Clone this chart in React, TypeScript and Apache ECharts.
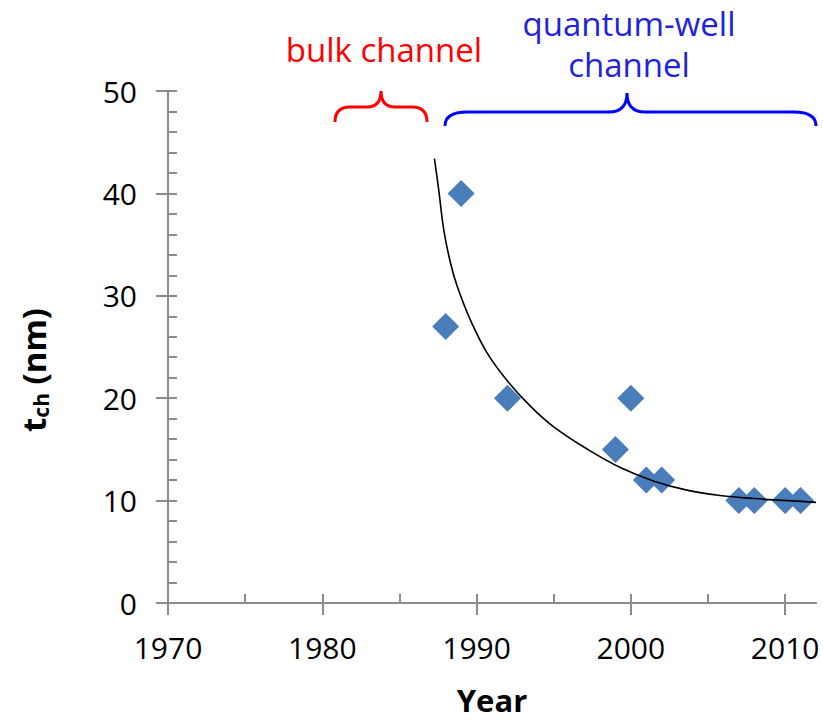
import React, { useEffect, useRef } from "react";
import * as echarts from "echarts";

// Measured data points
const years = [1988, 1989, 1992, 1999, 2000, 2001, 2002, 2007, 2008, 2010, 2011];
const thickness = [27, 40, 20, 15, 20, 12, 12, 10, 10, 10, 10];

// Trend curve
const trendYears = [1987.27, 1987.55, 1987.88, 1988.31, 1988.75, 1989.61, 1990.69, 1991.99, 1993.5, 1995.0, 1997.2, 1999.35, 2001.5, 2003.7, 2005.8, 2008.0, 2010.2, 2012.0];
const trendValues = [43.4, 40.3, 36.4, 33.2, 30.9, 27.6, 24.4, 21.7, 19.2, 17.2, 15.0, 13.2, 11.9, 11.0, 10.5, 10.2, 10.0, 9.83];

// Axis ticks
const xMajorTicks = [1970, 1980, 1990, 2000, 2010];
const xAllTicks = [1970, 1975, 1980, 1985, 1990, 1995, 2000, 2005, 2010];

const D_RED = "M0,0 Q0,-15 15,-15 L32,-15 Q46,-15 46,-31 Q46,-15 60,-15 L77,-15 Q92,-15 92,0";
const D_BLUE = "M0,0 Q0,-14 22,-14 L164,-14 Q182,-14 182,-33 Q182,-14 200,-14 L349,-14 Q371,-14 371,0";

echarts.graphic.registerShape("braceRed", echarts.graphic.extendPath(D_RED, {}));
echarts.graphic.registerShape("braceBlue", echarts.graphic.extendPath(D_BLUE, {}));

const FONT = "Open Sans";
const AXIS_COLOR = "#8c8c8c";

export default function App() {
  const ref = useRef<HTMLDivElement>(null);
  useEffect(() => {
    if (!ref.current) return;
    const chart = echarts.init(ref.current, undefined, { renderer: "svg" });
    const scatterData = years.map((y, i) => [y, thickness[i]]);
    const trendData = trendYears.map((y, i) => [y, trendValues[i]]);
    const baseX = {
      type: "value" as const,
      min: 1970,
      max: 2012,
      position: "bottom" as const,
      splitLine: { show: false },
      axisLine: { show: true, lineStyle: { color: AXIS_COLOR, width: 2 } },
    };
    const baseY = {
      type: "value" as const,
      min: 0,
      max: 50,
      position: "left" as const,
      offset: 0,
      splitLine: { show: false },
      axisLine: { show: true, lineStyle: { color: AXIS_COLOR, width: 2 } },
    };
    chart.setOption({
      animation: false,
      textStyle: { fontFamily: FONT },
      grid: { left: 168, right: 7, top: 91, bottom: 117, containLabel: false },
      xAxis: [
        {
          ...baseX,
          interval: 10,
          axisTick: { show: true, inside: false, length: 12, customValues: xMajorTicks, lineStyle: { color: AXIS_COLOR, width: 2 } },
          axisLabel: {
            show: true,
            customValues: xMajorTicks,
            formatter: (v: number) => String(v),
            fontSize: 30,
            color: "#000",
            margin: 29,
            fontFamily: FONT,
          },
          name: "Year",
          nameLocation: "middle",
          nameGap: 81,
          nameTextStyle: { fontSize: 31, fontWeight: "bold", color: "#000", fontFamily: FONT },
        },
        {
          ...baseX,
          interval: 5,
          axisTick: { show: true, inside: true, length: 9, customValues: xAllTicks, lineStyle: { color: AXIS_COLOR, width: 2 } },
          axisLabel: { show: false },
        },
      ],
      yAxis: [
        {
          ...baseY,
          interval: 10,
          axisTick: { show: true, inside: false, length: 12, lineStyle: { color: AXIS_COLOR, width: 2 } },
          axisLabel: { show: true, fontSize: 30, color: "#000", margin: 31, fontFamily: FONT },
        },
        {
          ...baseY,
          interval: 2,
          axisTick: { show: true, inside: true, length: 9, lineStyle: { color: AXIS_COLOR, width: 2 } },
          axisLabel: { show: false },
        },
      ],
      series: [
        {
          type: "line",
          data: trendData,
          xAxisIndex: 0,
          yAxisIndex: 0,
          smooth: 0.4,
          showSymbol: false,
          symbol: "none",
          lineStyle: { color: "#000", width: 1.6 },
          z: 3,
        },
        {
          type: "scatter",
          data: scatterData,
          xAxisIndex: 0,
          yAxisIndex: 0,
          symbol: "diamond",
          symbolSize: [27, 27],
          itemStyle: { color: "#4A7EBB", opacity: 1 },
          z: 2,
        },
      ],
      graphic: [
        {
          type: "text",
          x: 33,
          y: 370,
          rotation: Math.PI / 2,
          style: {
            text: "{a|t}{b|ch}{a| (nm)}",
            align: "center",
            verticalAlign: "middle",
            rich: {
              a: { fontSize: 33, fontWeight: "bold", fontFamily: FONT, fill: "#000", verticalAlign: "top", lineHeight: 40, height: 40 },
              b: { fontSize: 21, fontWeight: "bold", fontFamily: FONT, fill: "#000", verticalAlign: "top", lineHeight: 24, padding: [17, 0, 0, 0] },
            },
          },
        },
        {
          type: "braceRed",
          x: 335,
          y: 122,
          style: { fill: "none", stroke: "#FF0000", lineWidth: 3 },
        },
        {
          type: "braceBlue",
          x: 445,
          y: 126,
          style: { fill: "none", stroke: "#0000FF", lineWidth: 3 },
        },
        {
          type: "text",
          x: 384,
          y: 49,
          style: { text: "bulk channel", fill: "#FF0000", fontSize: 33, fontFamily: FONT, align: "center", verticalAlign: "middle" },
        },
        {
          type: "text",
          x: 629,
          y: 23,
          style: { text: "quantum-well", fill: "#2222DD", fontSize: 33, fontFamily: FONT, align: "center", verticalAlign: "middle" },
        },
        {
          type: "text",
          x: 629,
          y: 64,
          style: { text: "channel", fill: "#2222DD", fontSize: 33, fontFamily: FONT, align: "center", verticalAlign: "middle" },
        },
      ],
    });
    return () => chart.dispose();
  }, []);
  return <div ref={ref} style={{ position: "absolute", left: 0, top: 0, width: 823, height: 720 }} />;
}
